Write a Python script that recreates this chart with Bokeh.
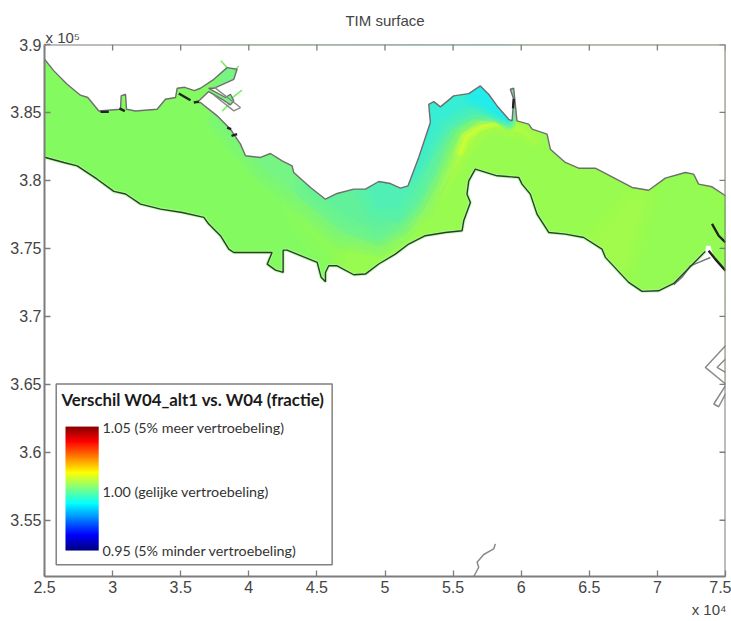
import numpy as np
from bokeh.plotting import figure
from bokeh.models import FixedTicker, LinearColorMapper, Range1d, Span, Title
from bokeh.core.properties import value
from bokeh.embed import file_html
from bokeh.resources import INLINE

# All coordinates in km (axis value / 1000)
x_ticks = [25, 30, 35, 40, 45, 50, 55, 60, 65, 70, 75]
x_labels = ["2.5", "3", "3.5", "4", "4.5", "5", "5.5", "6", "6.5", "7", "7.5"]
y_ticks = [355, 360, 365, 370, 375, 380, 385, 390]
y_labels = ["3.55", "3.6", "3.65", "3.7", "3.75", "3.8", "3.85", "3.9"]

north_x = [24, 25.0, 25.69, 26.66, 27.64, 28.18, 28.99, 30.58, 30.63, 30.95, 31.02, 31.68, 33.27, 33.88, 34.62, 34.74,
           35.3, 36.0, 36.45, 37.43, 38.41, 39.14, 38.90, 37.43, 37.06, 38.29, 38.65, 38.90, 38.65, 38.04, 37.06, 36.21,
           36.45, 37.68, 38.65, 39.39, 39.76, 40.86, 41.59, 42.45, 43.18, 43.30, 44.53, 45.63, 46.48, 47.71, 48.56,
           49.54, 50.40, 51.13, 51.69, 52.48, 53.33, 53.21, 53.58, 54.07, 55.04, 56.15, 57.00, 57.61, 58.23, 59.08,
           59.33, 59.45, 59.20, 59.45, 59.69, 60.55, 60.80, 61.90, 62.14, 63.24, 64.22, 65.44, 66.67, 68.14, 69.36,
           70.58, 72.05, 72.66, 73.03, 74.01, 75.0, 76]
north_y = [388.91, 388.91, 388.06, 387.07, 386.27, 386.10, 385.11, 385.24, 386.22, 386.34, 385.24, 385.11, 385.24, 385.97, 386.10, 386.78,
           386.85, 386.6, 386.78, 387.44, 388.30, 388.18, 387.44, 386.78, 386.78, 386.10, 386.34, 385.85, 385.56, 385.97, 386.54, 385.73,
           385.73, 384.75, 383.77, 382.67, 381.81, 381.69, 381.98, 381.44, 381.07, 380.58, 379.48, 378.62, 379.04, 379.36, 379.36,
           379.92, 379.77, 379.43, 379.60, 381.70, 384.26, 385.60, 385.80, 385.41, 386.22, 386.39, 386.95, 386.34, 385.48, 384.50,
           384.38, 385.97, 386.71, 386.78, 384.38, 384.14, 383.77, 383.40, 382.30, 381.32, 380.90, 380.90, 380.26, 379.48, 379.28,
           380.17, 380.58, 380.46, 379.73, 379.53, 378.87, 378.87]
south_x = [76, 75.0, 74.13, 73.89, 73.57, 73.52, 71.20, 70.09, 68.87, 67.89, 66.18, 65.93, 64.59, 63.24, 62.02, 61.16, 60.67,
           60.06, 59.82, 58.23, 56.63, 56.15, 56.02, 56.27, 55.78, 55.66, 54.43, 52.96, 51.74, 50.76, 49.54, 48.56, 47.71,
           46.48, 45.87, 45.63, 45.63, 45.31, 45.02, 42.81, 42.52, 42.52, 41.96, 41.35, 41.71, 38.90, 38.53, 37.92, 37.06,
           36.70, 35.11, 33.52, 32.05, 30.95, 30.09, 28.87, 27.40, 26.42, 25.07, 24]
south_y = [373.36, 373.36, 374.4, 375.2, 375.19, 374.78, 372.42, 371.88, 371.84, 372.50, 374.34, 374.95, 375.80, 376.05, 376.17, 377.52, 378.99,
           379.73, 380.22, 380.34, 380.83, 379.97, 378.99, 378.38, 377.03, 376.30, 376.17, 375.93, 375.32, 374.58, 373.85, 373.11, 373.06,
           373.72, 373.72, 373.23, 372.55, 372.87, 373.97, 374.87, 374.87, 373.23, 373.40, 373.84, 374.70, 374.70, 374.95, 375.93, 376.79,
           377.28, 377.64, 377.89, 378.26, 379.0, 379.19, 380.09, 381.07, 381.32, 381.69, 381.69]

# Shading of the surface, drawn in this order on the base colour
base_colour = "#83FB60"
zone_colours = ["#8CFA58", "#98FB50", "#A0FB4C", "#94FA54", "#ACFC46", "#CCFE34",
                "#76F584", "#62F19A", "#50EFB6", "#36EED4", "#22ECEC", "#86DCA0"]
zone_soft = [30, 30, 30, 30, 16, 6, 30, 30, 30, 30, 14, 0.1]
zone_x = [
    [40, 44, 47, 49, 51, 53, 55, 58, 58, 40],
    [46, 47.5, 50, 52, 53.5, 55, 57, 59, 60, 76, 76, 46],
    [65.5, 68, 70.5, 72, 71.5, 70, 67.5],
    [71, 72.5, 74, 76, 76, 71.5, 71, 70, 68],
    [50.5, 52.5, 54, 55, 56.3, 58, 60, 61, 60, 58, 57, 55.8, 54.2, 52.5],
    [55.2, 55.7, 56.8, 58.2, 58.2, 56.9, 56, 55.6],
    [38, 41, 44, 47, 49.5, 51, 52.5, 53.5, 54.2, 55, 56.5, 58, 58, 38],
    [44.5, 47, 49.5, 51, 52, 53, 53.8, 54.7, 56.5, 58.3, 58.3, 44],
    [48.5, 49.5, 50.8, 51.8, 52.7, 53.5, 54.6, 56, 58.5, 58.5, 48],
    [51.8, 53, 54, 55.5, 56.5, 58.8, 58.8, 51.8],
    [56.5, 56.3, 57.3, 58.3, 59.1, 59.1],
    [59.2, 59.2, 59.8, 59.8],
]
zone_y = [
    [390, 377, 373, 371, 372, 375, 378, 381, 392, 392],
    [370, 375.5, 376.5, 378, 381, 384, 385.2, 385, 392, 392, 365, 365],
    [375.5, 378.5, 379, 376, 373.5, 372.5, 373.5],
    [382, 380, 378, 377, 371, 371, 374, 371, 371],
    [376, 377, 379.5, 381.5, 384, 384.8, 384, 383, 383.5, 383.9, 383.6, 382, 379.5, 377.5],
    [382, 383.4, 384.1, 384.55, 384.2, 383.8, 383.1, 382],
    [384.5, 381, 378.5, 376, 375.5, 376.5, 378, 380, 382, 384, 385, 385.5, 392, 392],
    [379.5, 377.5, 376.3, 377, 378.5, 380.5, 382.5, 384.2, 385.2, 385.3, 392, 392],
    [380, 378, 378, 379.3, 381, 383, 384.6, 385.5, 385.5, 392, 392],
    [381, 383, 384.5, 385.3, 385.7, 385.2, 392, 392],
    [392, 386, 385.5, 384.8, 384.2, 392],
    [384.5, 387, 387, 384.5],
]

# Outlines
harbour_x = [37.43, 39.39, 38.90, 37.43]
harbour_y = [386.88, 385.36, 385.12, 386.29]
east_gray_x = [73.89, 72.42, 71.81, 71.2]
east_gray_y = [374.33, 373.72, 372.87, 372.33]
island_xs = [[75, 73.52, 75], [75, 74.38, 75], [75, 74.14, 74.5, 75],
             [56.52, 56.88, 56.76, 57.25, 57.98, 58.1]]
island_ys = [[367.84, 366.24, 365.02], [366.86, 366.24, 365.88], [364.9, 363.55, 363.35, 364.29],
             [350.86, 351.54, 351.91, 352.48, 352.89, 353.26]]
black_xs = [[34.86, 35.72], [35.96, 36.33], [38.41, 38.7], [38.73, 39.14], [29.11, 29.72],
            [74.01, 74.5, 75], [73.76, 74.25, 75], [30.5, 30.9], [59.4, 59.45]]
black_ys = [[386.39, 385.9], [385.73, 385.8], [383.89, 383.77], [383.28, 383.4], [385.04, 385.04],
            [376.8, 375.93, 375.44], [374.83, 374.21, 373.36], [385.3, 385.1], [385.3, 386.0]]
sprig_xs = [[37.95, 38.41], [39.25, 38.9], [39.5, 38.8], [38.05, 38.55]]
sprig_ys = [[388.8, 388.3], [388.4, 388.0], [386.65, 386.1], [385.1, 385.6]]

bar_low, bar_high = 0.95, 1.05
legend_title = "Verschil W04_alt1 vs. W04 (fractie)"
legend_labels = ["1.05 (5% meer vertroebeling)", "1.00 (gelijke vertroebeling)", "0.95 (5% minder vertroebeling)"]
legend_label_y = [361.81, 357.11, 352.77]

# Jet colormap for the legend bar
jet_anchor_t = [0, 0.11, 0.125, 0.375, 0.625, 0.875, 1]
jet_r = [0, 0, 0, 0, 255, 255, 128]
jet_g = [0, 0, 0, 255, 255, 0, 0]
jet_b = [128, 240, 255, 255, 0, 0, 0]
t = np.linspace(0, 1, 256)
jet = ["#%02x%02x%02x" % (int(r), int(g), int(b)) for r, g, b in zip(
    np.interp(t, jet_anchor_t, jet_r), np.interp(t, jet_anchor_t, jet_g), np.interp(t, jet_anchor_t, jet_b))]

GRAY = "#7d7d7d"
TXT = "#444444"

p = figure(width=731, height=621, output_backend="svg", toolbar_location=None,
           x_range=Range1d(25, 75), y_range=Range1d(350.86, 390),
           min_border_left=44, min_border_right=6, min_border_top=44, min_border_bottom=45,
           background_fill_color="white", border_fill_color="white", outline_line_color=None)
p.grid.visible = False

est_x = north_x + south_x
est_y = north_y + south_y

p.patch(est_x, est_y, fill_color=base_colour, line_color=None)
for zx, zy, col, soft in zip(zone_x, zone_y, zone_colours, zone_soft):
    for f in (1, 2 / 3, 1 / 3):   # soft edge around each zone
        p.patch(zx, zy, fill_color=None, line_color=col, line_alpha=0.28, line_width=soft * f, line_join="round")
    p.patch(zx, zy, fill_color=col, line_color=None)

# everything outside the water is white
outer_x = [10, 90, 90, 10]
outer_y = [340, 340, 400, 400]
p.multi_polygons(xs=[[[outer_x, est_x]]], ys=[[[outer_y, est_y]]], fill_color="white", line_color=None)

p.multi_line(sprig_xs, sprig_ys, line_color="#78F060", line_width=1.6)
p.line(south_x[5:], south_y[5:], line_color="#A8FF90", line_width=3.5, line_alpha=0.7)
p.line(north_x, north_y, line_color="#6e6e6e", line_width=1.4)
p.line(harbour_x, harbour_y, line_color="#8a8a8a", line_width=1.4)
p.line(east_gray_x, east_gray_y, line_color="#777777", line_width=1.4)
p.line(south_x[5:], south_y[5:], line_color="#2f3a2f", line_width=1.4)
p.multi_line(island_xs, island_ys, line_color="#8a8a8a", line_width=1.5)
p.multi_line(black_xs, black_ys, line_color="#222222", line_width=2.4)

# legend box
p.quad(left=[25.86], right=[46.12], top=[365.02], bottom=[351.72], fill_color="white", line_color="#808080", line_width=1.5)
grad = np.linspace(bar_low, bar_high, 256).reshape(256, 1)
p.image(image=[grad], x=26.54, y=352.77, dw=2.44, dh=9.12,
        color_mapper=LinearColorMapper(palette=jet, low=bar_low, high=bar_high))
p.text(x=[26.25], y=[363.87], text=[legend_title], text_font=value("Lato"), text_font_style="bold",
       text_font_size="16.8px", text_color="#1a1a1a", text_baseline="middle")
p.text(x=[29.26] * 3, y=legend_label_y, text=legend_labels, text_font=value("Lato"),
       text_font_size="14.3px", text_color="#333333", text_baseline="middle")

# axes: labels on two sides, ticks inward on all four
for ax, tks, lbs in ((p.xaxis[0], x_ticks, x_labels), (p.yaxis[0], y_ticks, y_labels)):
    ax.ticker = FixedTicker(ticks=tks)
    ax.major_label_overrides = dict(zip(tks, lbs))
    ax.axis_line_color = GRAY
    ax.axis_line_width = 2
    ax.major_tick_line_color = GRAY
    ax.major_tick_line_width = 1.3
    ax.major_tick_in = 6
    ax.major_tick_out = 0
    ax.minor_tick_line_color = None
    ax.major_label_text_font = "Liberation Sans"
    ax.major_label_text_font_size = "16px"
    ax.major_label_text_color = TXT
p.xaxis[0].major_label_standoff = 4
p.yaxis[0].major_label_standoff = 3

p.add_layout(Span(location=390, dimension="width", line_color=GRAY, line_width=2))
p.add_layout(Span(location=75, dimension="height", line_color=GRAY, line_width=2))
p.segment(x0=x_ticks, x1=x_ticks, y0=[390] * len(x_ticks), y1=[389.56] * len(x_ticks), line_color=GRAY, line_width=1.3)
p.segment(x0=[75] * len(y_ticks), x1=[74.56] * len(y_ticks), y0=y_ticks, y1=y_ticks, line_color=GRAY, line_width=1.3)

# titles
common = dict(text_font="Liberation Sans", text_color=TXT, text_font_style="normal")
p.title = Title(text="TIM surface", align="center", text_font_size="15px", standoff=0, **common)
p.add_layout(Title(text="x 10\u2075", align="left", offset=1, text_font_size="15px", standoff=-3, **common), "above")
p.add_layout(Title(text="x 10\u2074", align="right", offset=-1, text_font_size="15px", standoff=6, **common), "below")

open("out.html", "w").write(file_html(p, INLINE))
